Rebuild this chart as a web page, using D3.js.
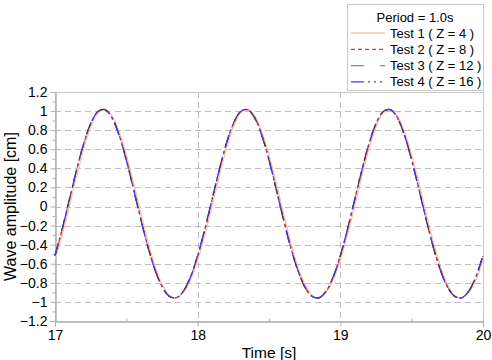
<!DOCTYPE html>
<html><head><meta charset="utf-8">
<script src="https://cdn.jsdelivr.net/npm/d3@7/dist/d3.min.js"></script>
<style>body{margin:0;background:#fff}svg{display:block;font-family:"Liberation Sans",Arial,sans-serif}</style>
</head><body><svg id="c" width="492" height="360"></svg>
<script>
const time = d3.range(61).map(i => +(17 + i * 0.05).toFixed(2));
const test1 = [-0.56,-0.30,0.00,0.31,0.60,0.83,0.98,1.015,0.95,0.78,0.54,0.25,-0.06,-0.36,-0.62,-0.81,-0.93,-0.96,-0.90,-0.77,
  -0.56,-0.30,0.00,0.31,0.60,0.83,0.98,1.015,0.95,0.78,0.54,0.25,-0.06,-0.36,-0.62,-0.81,-0.93,-0.96,-0.90,-0.77,
  -0.56,-0.30,0.00,0.31,0.60,0.83,0.98,1.015,0.95,0.78,0.54,0.25,-0.06,-0.36,-0.62,-0.81,-0.93,-0.96,-0.90,-0.77,-0.56];
const test2 = [-0.518,-0.243,0.064,0.373,0.651,0.867,0.993,1.015,0.929,0.746,0.489,0.189,-0.123,-0.414,-0.658,-0.838,-0.939,-0.956,-0.888,-0.739,
  -0.518,-0.243,0.064,0.373,0.651,0.867,0.993,1.015,0.929,0.746,0.489,0.189,-0.123,-0.414,-0.658,-0.838,-0.939,-0.956,-0.888,-0.739,
  -0.518,-0.243,0.064,0.373,0.651,0.867,0.993,1.015,0.929,0.746,0.489,0.189,-0.123,-0.414,-0.658,-0.838,-0.939,-0.956,-0.888,-0.739,-0.518];
const test3 = [-0.512,-0.236,0.070,0.378,0.655,0.870,0.995,1.016,0.927,0.742,0.484,0.183,-0.129,-0.419,-0.662,-0.840,-0.940,-0.956,-0.886,-0.735,
  -0.512,-0.236,0.070,0.378,0.655,0.870,0.995,1.016,0.927,0.742,0.484,0.183,-0.129,-0.419,-0.662,-0.840,-0.940,-0.956,-0.886,-0.735,
  -0.512,-0.236,0.070,0.378,0.655,0.870,0.995,1.016,0.927,0.742,0.484,0.183,-0.129,-0.419,-0.662,-0.840,-0.940,-0.956,-0.886,-0.735,-0.512];
const test4 = [-0.515,-0.240,0.067,0.375,0.653,0.868,0.994,1.015,0.928,0.744,0.486,0.186,-0.126,-0.416,-0.660,-0.839,-0.940,-0.957,-0.887,-0.737,
  -0.515,-0.240,0.067,0.375,0.653,0.868,0.994,1.015,0.928,0.744,0.486,0.186,-0.126,-0.416,-0.660,-0.839,-0.940,-0.957,-0.887,-0.737,
  -0.515,-0.240,0.067,0.375,0.653,0.868,0.994,1.015,0.928,0.744,0.486,0.186,-0.126,-0.416,-0.660,-0.839,-0.940,-0.957,-0.887,-0.737,-0.515];
const xTicks = [17, 18, 19, 20];
const yTicks = [-1.2,-1,-0.8,-0.6,-0.4,-0.2,0,0.2,0.4,0.6,0.8,1,1.2];
const seriesNames = ["Test 1 ( Z = 4 )","Test 2 ( Z = 8 )","Test 3 ( Z = 12 )","Test 4 ( Z = 16 )"];
const legendTitle = "Period = 1.0s";
const xTitle = "Time [s]", yTitle = "Wave amplitude [cm]";

const svg = d3.select("#c");
const L = 55, R = 483, T = 92, B = 321;
const x = d3.scaleLinear().domain([17, 20]).range([L, R]);
const y = d3.scaleLinear().domain([-1.2, 1.2]).range([B, T]);

// grid
const g = svg.append("g");
g.selectAll(".hg").data(yTicks.filter(v => Math.abs(v) < 1.19)).join("line")
  .attr("x1", L).attr("x2", R).attr("y1", d => Math.round(y(d)) + 0.5).attr("y2", d => Math.round(y(d)) + 0.5)
  .attr("stroke", "#bdbdbd").attr("stroke-dasharray", "6,4");
g.selectAll(".vg").data(xTicks.slice(1, -1)).join("line")
  .attr("y1", T).attr("y2", B).attr("x1", d => Math.round(x(d)) + 0.5).attr("x2", d => Math.round(x(d)) + 0.5)
  .attr("stroke", "#bdbdbd").attr("stroke-dasharray", "6,4");

// frame
svg.append("rect").attr("x", L + 0.5).attr("y", T + 0.5).attr("width", R - L).attr("height", B - T)
  .attr("fill", "none").attr("stroke", "#c8c8c8");

// axes
const yAx = svg.append("g").attr("transform", `translate(${L + 0.5},0)`)
  .call(d3.axisLeft(y).tickValues(yTicks).tickFormat(d => d3.format("")(+d.toFixed(1))).tickSize(5).tickPadding(3));
const yMinor = svg.append("g").attr("transform", `translate(${L + 0.5},0)`)
  .call(d3.axisLeft(y).tickValues(d3.range(-11, 12, 2).map(v => v / 10)).tickFormat("").tickSize(3));
const xAx = svg.append("g").attr("transform", `translate(0,${B + 0.5})`)
  .call(d3.axisBottom(x).tickValues(xTicks).tickFormat(d3.format("d")).tickSize(5).tickPadding(4));
const xMinor = svg.append("g").attr("transform", `translate(0,${B + 0.5})`)
  .call(d3.axisTop(x).tickValues([17.5, 18.5, 19.5]).tickFormat("").tickSize(3));
[yAx, yMinor, xAx, xMinor].forEach(a => {
  a.select(".domain").attr("stroke", "#b0b0b0");
  a.selectAll(".tick line").attr("stroke", "#b0b0b0");
  a.selectAll("text").attr("fill", "#000").attr("font-size", 14).attr("font-family", "Liberation Sans, Arial, sans-serif");
});

svg.append("text").attr("x", (L + R) / 2).attr("y", 358).attr("text-anchor", "middle")
  .attr("font-size", 15.5).text(xTitle);
svg.append("text").attr("transform", `translate(16,${(T + B) / 2}) rotate(-90)`).attr("text-anchor", "middle")
  .attr("font-size", 16).text(yTitle);

// series
const styles = [
  {stroke: "#f7c2a6", dash: null, w: 1.3},
  {stroke: "#f03030", dash: "4,3", w: 1.3},
  {stroke: "#3a3a3a", dash: "13,12", w: 1.3},
  {stroke: "#3a3af0", dash: "13,4,2,4,2,4,2,4", w: 1.3}
];
const allSeries = [test1, test2, test3, test4];
const line = d3.line().x((d, i) => x(time[i])).y(d => y(d)).curve(d3.curveCatmullRom);
const plot = svg.append("g");
allSeries.forEach((s, i) => {
  plot.append("path").attr("d", line(s)).attr("fill", "none")
    .attr("stroke", styles[i].stroke).attr("stroke-width", styles[i].w)
    .attr("stroke-dasharray", styles[i].dash);
});

// legend
const lg = svg.append("g");
lg.append("rect").attr("x", 347.5).attr("y", 4.5).attr("width", 136).attr("height", 86)
  .attr("fill", "#fff").attr("stroke", "#c8c8c8");
lg.append("text").attr("x", 415).attr("y", 22).attr("text-anchor", "middle").attr("font-size", 13).text(legendTitle);
seriesNames.forEach((n, i) => {
  const yy = 33 + i * 16.3;
  lg.append("line").attr("x1", 351).attr("x2", 385).attr("y1", yy).attr("y2", yy)
    .attr("stroke", i === 2 ? "#8a8a8a" : styles[i].stroke).attr("stroke-width", 1.3)
    .attr("stroke-dasharray", i === 2 ? "13,16" : styles[i].dash);
  lg.append("text").attr("x", 390).attr("y", yy + 4.5).attr("font-size", 13).text(n);
});
</script></body></html>
